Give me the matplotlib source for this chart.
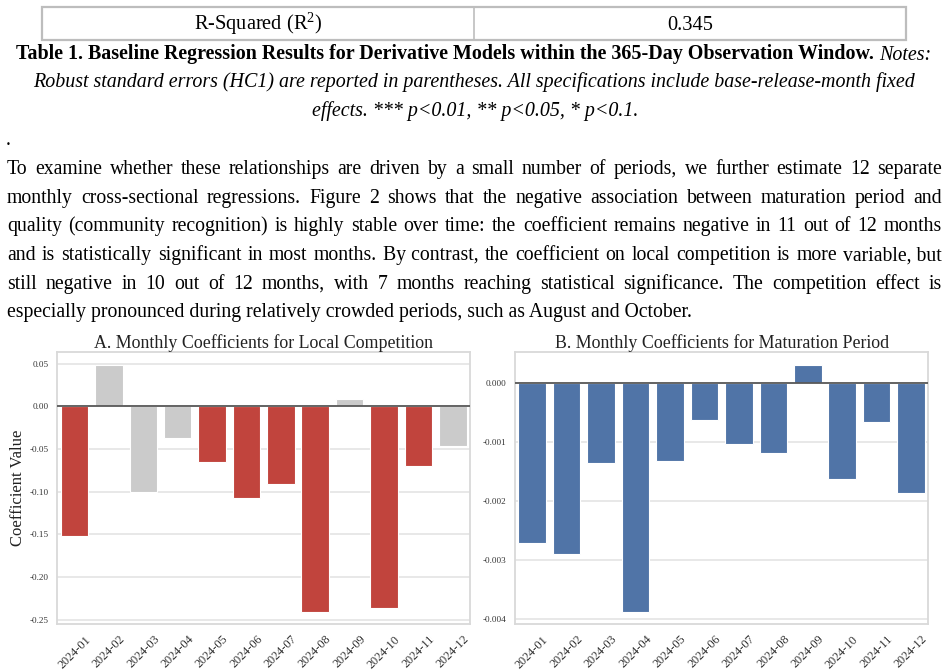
import matplotlib
matplotlib.use('Agg')
import matplotlib.pyplot as plt
from matplotlib.patches import Rectangle
from matplotlib.lines import Line2D

# ---------------- data ----------------
months = ['2024-01', '2024-02', '2024-03', '2024-04', '2024-05', '2024-06',
          '2024-07', '2024-08', '2024-09', '2024-10', '2024-11', '2024-12']
comp_coef = [-0.152, 0.048, -0.101, -0.037, -0.065, -0.108,
             -0.091, -0.241, 0.009, -0.236, -0.070, -0.046]
comp_sig = [True, False, False, False, True, True,
            True, True, False, True, True, False]
mat_coef = [-0.00272, -0.00290, -0.00136, -0.00388, -0.00132, -0.00062,
            -0.00104, -0.00119, 0.00030, -0.00162, -0.00066, -0.00186]
comp_yticks = [0.05, 0.00, -0.05, -0.10, -0.15, -0.20, -0.25]
mat_yticks = [0.000, -0.001, -0.002, -0.003, -0.004]

table_label = 'R-Squared (R$\\mathregular{^2}$)'
table_value = '0.345'
caption_bold = 'Table 1. Baseline Regression Results for Derivative Models within the 365-Day Observation Window.'
caption_it1 = 'Notes:'
caption_lines = ['Robust standard errors (HC1) are reported in parentheses. All specifications include base-release-month fixed',
                 'effects. *** p<0.01, ** p<0.05, * p<0.1.']
# '|' marks the justified gaps of each line
body_lines = [
    'To|examine|whether|these|relationships|are|driven|by|a|small|number|of|periods,|we|further|estimate|12|separate',
    'monthly|cross-sectional|regressions.|Figure|2|shows|that|the|negative|association|between|maturation|period|and',
    'quality|(community|recognition)|is|highly|stable|over|time:|the|coefficient|remains|negative|in|11|out|of|12|months',
    'and|is|statistically|significant|in|most|months.|By contrast,|the|coefficient|on|local|competition|is|more|variable, but',
    'still|negative|in|10|out|of|12|months,|with|7|months|reaching|statistical|significance.|The|competition|effect|is',
    'especially pronounced during relatively crowded periods, such as August and October.',
]
title_A = 'A. Monthly Coefficients for Local Competition'
title_B = 'B. Monthly Coefficients for Maturation Period'
ylabel_A = 'Coefficient Value'

# ---------------- setup ----------------
plt.rcParams['axes.unicode_minus'] = False
plt.rcParams['mathtext.fontset'] = 'custom'
plt.rcParams['mathtext.rm'] = 'Liberation Serif'
SERIF = ['Liberation Serif', 'DejaVu Serif']
plt.rcParams['font.family'] = SERIF

W, H, DPI = 949, 672, 100
fig = plt.figure(figsize=(W / DPI, H / DPI), dpi=DPI)
fig.patch.set_facecolor('white')
renderer = fig.canvas.get_renderer()


def px(x):
    return x / W


def py(y):
    return 1 - y / H


def measure(s, size, **kw):
    t = fig.text(0, 0, s, fontsize=size, **kw)
    w = t.get_window_extent(renderer).width
    t.remove()
    return w


def fit(s, target, **kw):
    return 10.0 * target / measure(s, 10.0, **kw)


def put(x, y, s, size, **kw):
    return fig.text(px(x), py(y), s, fontsize=size, va='baseline', **kw)


# ---------------- table row ----------------
tb_l, tb_r, tb_t, tb_b, tb_mid = 42, 906, 6.5, 40, 474
fig.add_artist(Rectangle((px(tb_l), py(tb_b)), (tb_r - tb_l) / W, (tb_b - tb_t) / H,
                         transform=fig.transFigure, fill=False, ec='#bdbdbd', lw=1.6))
fig.add_artist(Line2D([px(tb_mid), px(tb_mid)], [py(tb_b), py(tb_t)],
                      transform=fig.transFigure, color='#bdbdbd', lw=1.2))

body_size = round(fit(body_lines[-1], 685), 2)
put((tb_l + tb_mid) / 2, 30, table_label, body_size * 1.03, ha='center', color='black')
put((tb_mid + tb_r) / 2, 30, table_value, body_size * 1.03, ha='center', color='black')

# ---------------- caption ----------------
cap_size = round(fit(caption_lines[0], 887, style='italic'), 2)
wb = measure(caption_bold, cap_size, weight='bold')
ws = measure('a a', cap_size) - measure('aa', cap_size)
wi = measure(caption_it1, cap_size, style='italic')
x0 = 474 - (wb + ws + wi) / 2
put(x0, 59.5, caption_bold, cap_size, weight='bold', ha='left', color='black')
put(x0 + wb + ws, 59.5, caption_it1, cap_size, style='italic', ha='left', color='black')
put(474, 87.5, caption_lines[0], cap_size, style='italic', ha='center', color='black')
put(475, 116, caption_lines[1], cap_size, style='italic', ha='center', color='black')

# ---------------- body paragraph ----------------
put(6, 145, '.', body_size, ha='left', color='black')
bx0, bx1 = 7, 942
base0, lh = 174, 28.7
for i, line in enumerate(body_lines):
    yb = base0 + i * lh
    if '|' not in line:
        put(bx0, yb, line, body_size, ha='left', color='black')
        continue
    chunks = line.split('|')
    widths = [measure(w, body_size) for w in chunks]
    gap = (bx1 - bx0 - sum(widths)) / (len(chunks) - 1)
    x = bx0
    for w, wd in zip(chunks, widths):
        put(x, yb, w, body_size, ha='left', color='black')
        x += wd + gap

# ---------------- charts ----------------
RED, GREY, BLUE = '#C1443D', '#CBCBCB', '#5074A7'
ax_top, ax_bot = 352, 624.3
tick_size_y = 6.6
tick_size_x = 8.8
title_size = fit(title_A, 340)
ylab_size = fit(ylabel_A, 116)


def style_axes(ax):
    for sp in ax.spines.values():
        sp.set_color('#d9d9d9')
        sp.set_linewidth(1.3)
    ax.set_axisbelow(True)
    ax.yaxis.grid(True, color='#e2e2e2', lw=1.1)
    ax.xaxis.grid(False)
    ax.tick_params(axis='both', length=0, colors='#333333')
    ax.tick_params(axis='y', labelsize=tick_size_y, pad=6.3)
    ax.tick_params(axis='x', labelsize=tick_size_x, pad=6.5)
    ax.set_xlim(-0.5, len(months) - 0.5)
    ax.set_xticks(range(len(months)))
    ax.set_xticklabels(months, rotation=45, ha='center')


xs = list(range(len(months)))

axA = fig.add_axes([px(57.3), py(ax_bot), (470 - 57.3) / W, (ax_bot - ax_top) / H])
style_axes(axA)
colorsA = [RED if s else GREY for s in comp_sig]
axA.bar(xs, comp_coef, width=0.8, color=colorsA, edgecolor='white', lw=0.8, zorder=2)
axA.axhline(0, color='#585858', lw=1.3, zorder=3)
axA.set_ylim(-0.2555, 0.0636)
axA.set_yticks(comp_yticks)
axA.set_yticklabels(['%.2f' % v for v in comp_yticks])
axA.set_title(title_A, fontsize=title_size, color='#222222', pad=3.2)
fig.text(px(18.3), py(488), ylabel_A, rotation=90, ha='center', va='center',
         fontsize=ylab_size, color='#222222')

axB = fig.add_axes([px(515), py(ax_bot), (928.3 - 515) / W, (ax_bot - ax_top) / H])
style_axes(axB)
axB.bar(xs, mat_coef, width=0.8, color=BLUE, edgecolor='white', lw=0.8, zorder=2)
axB.axhline(0, color='#585858', lw=1.3, zorder=3)
axB.set_ylim(-0.00409, 0.000525)
axB.set_yticks(mat_yticks)
axB.set_yticklabels(['%.3f' % v for v in mat_yticks])
axB.set_title(title_B, fontsize=fit(title_B, 335), color='#222222', pad=3.2)

fig.savefig('out.png', dpi=DPI, facecolor='white')
